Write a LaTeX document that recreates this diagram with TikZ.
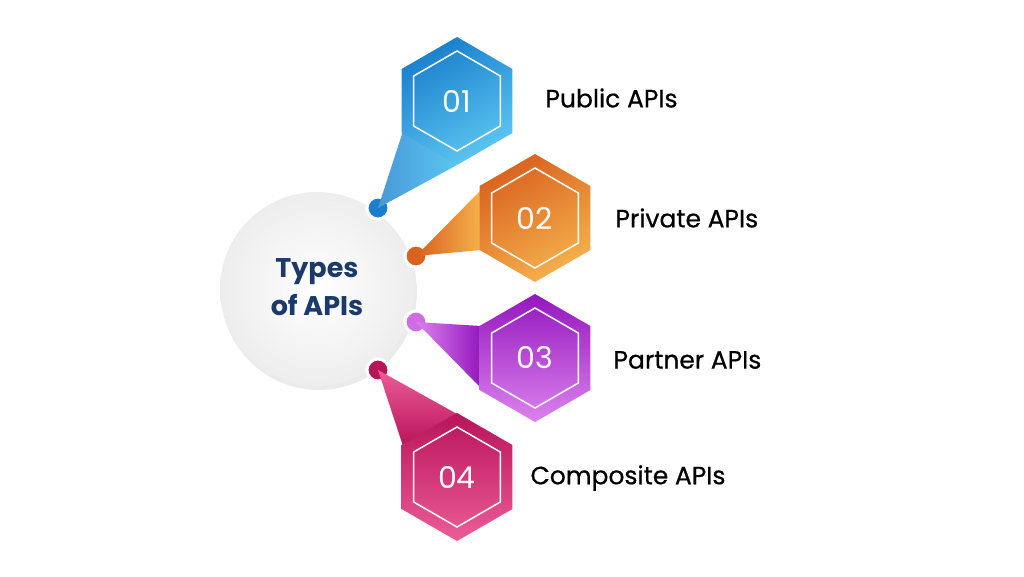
\documentclass[tikz,border=0pt]{standalone}
\usepackage{fontspec}
\setmainfont{Poppins}
\newfontfamily\lblfont{Poppins}[FakeBold=0.6]
\usetikzlibrary{shapes.geometric}
\definecolor{navy}{HTML}{1B3A6B}
\definecolor{bluea}{HTML}{1A7FCC}\definecolor{blueb}{HTML}{5CC6F2}
\definecolor{orga}{HTML}{D9621F}\definecolor{orgb}{HTML}{F5B14C}
\definecolor{pura}{HTML}{9417BE}\definecolor{purb}{HTML}{DC82EE}
\definecolor{pinka}{HTML}{B8145A}\definecolor{pinkb}{HTML}{EC5C98}
\tikzset{
  hexa/.style={regular polygon, regular polygon sides=6, shape border rotate=30, minimum size=128pt, inner sep=0pt},
  hexb/.style={regular polygon, regular polygon sides=6, shape border rotate=30, minimum size=100pt, inner sep=0pt, draw=white, line width=1.5pt,
    text=white, font=\fontsize{30}{30}\selectfont},
  dot/.style={circle, minimum size=22pt, inner sep=0pt, draw=white, line width=3pt},
  lbl/.style={anchor=west, font=\lblfont\fontsize{25}{28}\selectfont, text=black}
}
\begin{document}
\begin{tikzpicture}[x=1pt,y=-1pt]
\useasboundingbox (0,0) rectangle (1024,576);
% centre
\fill[black!8] (319,292) circle (98);
\shade[inner color=white, outer color=black!7] (317,289) circle (97);
\node[align=center, text=navy, font=\bfseries\fontsize{27}{38}\selectfont] (title) at (317,287) {Types\\of APIs};
% 01
\node[dot, fill=bluea] (d1) at (378,208) {};
\coordinate (c1a) at (404,128); \coordinate (c1b) at (457,165);
\shade[left color=bluea!80, right color=blueb] (d1.center) -- (c1a) -- (c1b) -- cycle;
\node[hexa, shading=axis, top color=bluea, bottom color=blueb, shading angle=30] (h1) at (457,101) {};
\node[hexb] (n1) at (h1) {01};
\node[lbl] (t1) at (542,98) {Public APIs};
% 02
\node[dot, fill=orga] (d2) at (416,256) {};
\coordinate (c2a) at (481,190); \coordinate (c2b) at (481,250);
\shade[left color=orga, right color=orgb] (d2.center) -- (c2a) -- (c2b) -- cycle;
\node[hexa, shading=axis, top color=orga, bottom color=orgb, shading angle=30] (h2) at (535,218) {};
\node[hexb] (n2) at (h2) {02};
\node[lbl] (t2) at (612,218) {Private APIs};
% 03
\node[dot, fill=purb!80!pura] (d3) at (416,322) {};
\coordinate (c3a) at (481,326); \coordinate (c3b) at (481,388);
\shade[left color=purb, right color=pura] (d3.center) -- (c3a) -- (c3b) -- cycle;
\node[hexa, shading=axis, top color=pura, bottom color=purb, shading angle=0] (h3) at (535,358) {};
\node[hexb] (n3) at (h3) {03};
\node[lbl] (t3) at (610,360) {Partner APIs};
% 04
\node[dot, fill=pinka] (d4) at (378,370) {};
\coordinate (c4a) at (403,446); \coordinate (c4b) at (457,414);
\shade[top color=pinkb, bottom color=pinka] (d4.center) -- (c4a) -- (c4b) -- cycle;
\node[hexa, shading=axis, top color=pinka, bottom color=pinkb, shading angle=0] (h4) at (457,477) {};
\node[hexb] (n4) at (h4) {04};
\node[lbl] (t4) at (527,478) {Composite APIs};
\end{tikzpicture}
\end{document}
